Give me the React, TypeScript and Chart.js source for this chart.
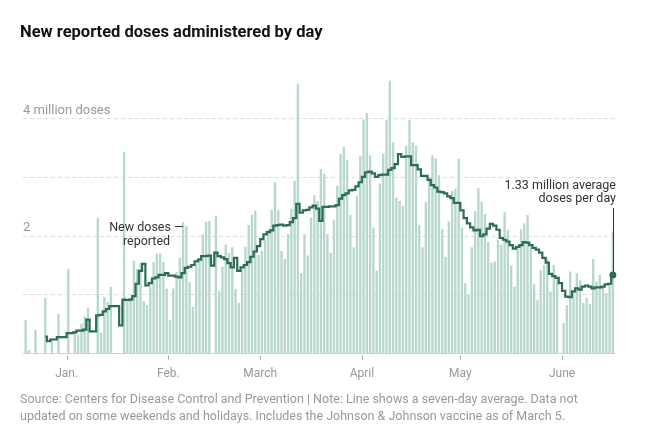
import React, { useEffect, useRef } from 'react';
import { Chart, registerables } from 'chart.js';

Chart.register(...registerables);

// ---- data (millions of doses) ----
const startDate = '2020-12-19';

const doses: (number | null)[] = [
  0.56, 0.05, null, 0.39, null, null, 0.94, null, 0.25, null,
  0.67, null, null, 1.43, null, 0.38, 0.31, 0.50, 0.62, 0.77,
  null, null, 2.30, 0.35, 0.96, 0.87, 1.13, null, null, null,
  3.43, 0.87, 0.95, 1.57, 1.43, 1.54, 0.88, 0.82, 1.13, 1.55,
  1.69, 1.69, 1.55, 1.10, 0.56, 1.10, 1.38, 1.62, 2.23, 2.16,
  1.21, 0.79, 1.52, 1.62, 2.02, 2.24, 2.25, null, 2.34, 1.06,
  1.47, 1.85, 1.71, 1.80, 1.09, 0.85, 1.42, 1.81, 2.18, 2.35,
  2.43, 1.67, 1.74, 1.93, 2.10, 2.44, 2.91, 2.44, 1.74, 1.60,
  2.03, 2.46, 2.93, 4.59, 1.36, 2.03, 1.66, 2.31, 2.69, 2.59,
  3.13, 3.05, 2.03, 1.71, 2.27, 2.85, 3.39, 3.51, 3.29, 2.35,
  1.80, 2.68, 3.36, 3.98, 4.09, 3.37, 2.14, 1.40, 2.89, 3.40,
  3.97, 4.64, 3.59, 2.65, 2.59, 2.51, 3.53, 3.97, 3.59, 3.53,
  2.18, 1.80, 2.57, 2.99, 3.37, 3.32, 3.03, 2.11, 1.64, 2.24,
  2.76, 2.80, 3.31, 2.14, 1.19, 1.00, 1.80, 2.42, 2.81, 2.58,
  2.37, 1.89, 1.54, 1.56, 1.93, 1.85, 2.40, 2.10, 1.49, 1.13,
  1.78, 2.11, 2.21, 2.35, 1.81, 1.17, 0.90, 1.41, 1.50, 1.61,
  1.05, 1.50, 1.26, null, 0.51, 0.82, 1.39, 1.05, 1.36, 1.24,
  0.85, 0.94, 0.83, 1.60, 1.22, 1.33, 1.13, 1.02, 1.17, 2.07,
];

const sevenDayAvg: (number | null)[] = [
  null, null, null, null, null, null,
  0.28, 0.20, 0.23, 0.23, 0.27, 0.27, 0.27, 0.34, 0.34, 0.35,
  0.38, 0.38, 0.40, 0.57, 0.37, 0.37, 0.64, 0.65, 0.71, 0.75,
  0.80, 0.80, 0.80, 0.47, 0.91, 0.90, 0.91, 0.97, 1.18, 1.40,
  1.52, 1.15, 1.19, 1.27, 1.29, 1.33, 1.33, 1.36, 1.32, 1.32,
  1.30, 1.29, 1.36, 1.45, 1.47, 1.50, 1.56, 1.59, 1.65, 1.65,
  1.66, 1.49, 1.71, 1.65, 1.63, 1.60, 1.53, 1.46, 1.62, 1.40,
  1.46, 1.50, 1.55, 1.64, 1.73, 1.82, 1.94, 2.02, 2.06, 2.09,
  2.17, 2.18, 2.19, 2.17, 2.18, 2.23, 2.30, 2.54, 2.39, 2.43,
  2.44, 2.48, 2.51, 2.46, 2.25, 2.49, 2.49, 2.50, 2.50, 2.52,
  2.63, 2.69, 2.72, 2.77, 2.78, 2.84, 2.91, 3.00, 3.08, 3.09,
  3.06, 3.00, 3.03, 3.04, 3.04, 3.12, 3.15, 3.22, 3.39, 3.34,
  3.35, 3.35, 3.20, 3.20, 3.13, 3.02, 3.02, 2.95, 2.86, 2.82,
  2.75, 2.74, 2.72, 2.67, 2.64, 2.56, 2.56, 2.43, 2.30, 2.21,
  2.14, 2.09, 2.10, 1.99, 2.02, 2.12, 2.20, 2.17, 2.10, 1.96,
  1.93, 1.90, 1.84, 1.78, 1.81, 1.84, 1.89, 1.88, 1.84, 1.79,
  1.76, 1.71, 1.62, 1.54, 1.35, 1.31, 1.28, 1.19, 1.06, 0.96,
  0.95, 1.05, 1.10, 1.08, 1.13, 1.15, 1.13, 1.10, 1.12, 1.12,
  1.13, 1.17, 1.18, 1.33,
];

const monthTickDates = ['2021-01-01', '2021-02-01', '2021-03-01', '2021-04-01', '2021-05-01', '2021-06-01'];
const monthTickLabels = ['Jan.', 'Feb.', 'March', 'April', 'May', 'June'];
const gridValues = [1, 2, 3, 4];
const yLabelValues = [4, 2];
const yLabelTexts = ['4 million doses', '2'];
const leftNote = ['New doses —', 'reported'];
const rightNote = ['1.33 million average', 'doses per day'];

function buildDates(start: string, n: number): string[] {
  const out: string[] = [];
  const t0 = new Date(start + 'T00:00:00Z').getTime();
  for (let i = 0; i < n; i++) out.push(new Date(t0 + i * 86400000).toISOString().slice(0, 10));
  return out;
}
const categories = buildDates(startDate, doses.length);

const BAR = '#b8d8cc';
const LINE = '#2d6b5a';
const FONT = 'Roboto, "Liberation Sans", Arial, sans-serif';

export default function App() {
  const ref = useRef<HTMLCanvasElement>(null);

  useEffect(() => {
    const canvas = ref.current;
    if (!canvas) return;
    const lastIdx = sevenDayAvg.length - 1;

    const decor = {
      id: 'decor',
      beforeDatasetsDraw(chart: any) {
        const { ctx, chartArea, scales } = chart;
        const y = scales.y;
        ctx.save();
        ctx.strokeStyle = '#dedede';
        ctx.lineWidth = 1;
        ctx.setLineDash([4, 3]);
        gridValues.forEach((v) => {
          const py = Math.round(y.getPixelForValue(v)) + 0.5;
          ctx.beginPath();
          ctx.moveTo(chartArea.left - 1, py);
          ctx.lineTo(chartArea.right + 1, py);
          ctx.stroke();
        });
        ctx.setLineDash([]);
        ctx.fillStyle = '#999';
        ctx.font = `13px ${FONT}`;
        ctx.textAlign = 'left';
        ctx.textBaseline = 'middle';
        yLabelValues.forEach((v, i) => {
          ctx.fillText(yLabelTexts[i], chartArea.left - 1, y.getPixelForValue(v) - 8);
        });
        ctx.restore();
      },
      afterDatasetsDraw(chart: any) {
        const { ctx, chartArea, scales } = chart;
        const x = scales.x;
        const y = scales.y;
        ctx.save();
        const by = Math.round(y.getPixelForValue(0)) + 0.5;
        ctx.strokeStyle = '#cfcfcf';
        ctx.lineWidth = 1;
        ctx.beginPath();
        ctx.moveTo(chartArea.left - 1, by);
        ctx.lineTo(chartArea.right + 1, by);
        ctx.stroke();
        const half = (x.getPixelForValue(1) - x.getPixelForValue(0)) / 2;
        ctx.strokeStyle = '#aaa';
        monthTickDates.forEach((d) => {
          const idx = categories.indexOf(d);
          if (idx < 0) return;
          const px = Math.round(x.getPixelForValue(idx) - half) + 0.5;
          ctx.beginPath();
          ctx.moveTo(px, by + 2);
          ctx.lineTo(px, by + 6);
          ctx.stroke();
        });
        ctx.fillStyle = '#333';
        ctx.font = `12.5px ${FONT}`;
        ctx.textBaseline = 'middle';
        ctx.textAlign = 'center';
        ctx.fillText(leftNote[0], 146.5, 228);
        ctx.fillText(leftNote[1], 146.5, 242);
        ctx.textAlign = 'right';
        ctx.fillText(rightNote[0], 616, 186);
        ctx.fillText(rightNote[1], 616, 199);
        const lx = x.getPixelForValue(lastIdx);
        const ly = y.getPixelForValue(sevenDayAvg[lastIdx] as number);
        ctx.strokeStyle = '#333';
        ctx.beginPath();
        ctx.moveTo(Math.round(lx) + 0.5, 208);
        ctx.lineTo(Math.round(lx) + 0.5, ly - 3);
        ctx.stroke();
        ctx.restore();
      },
    };

    const chart = new Chart(canvas, {
      type: 'bar',
      data: {
        labels: categories,
        datasets: [
          {
            type: 'line',
            data: sevenDayAvg,
            borderColor: LINE,
            borderWidth: 2.2,
            stepped: 'middle',
            fill: false,
            borderJoinStyle: 'miter',
            pointRadius: (c: any) => (c.dataIndex === lastIdx ? 3.5 : 0),
            pointHoverRadius: 0,
            pointBackgroundColor: LINE,
            pointBorderWidth: 0,
            order: 0,
          } as any,
          {
            type: 'bar',
            data: doses,
            backgroundColor: BAR,
            barPercentage: 0.72,
            categoryPercentage: 1,
            order: 1,
          } as any,
        ],
      },
      options: {
        responsive: false,
        animation: false,
        events: [],
        layout: { padding: { left: 24, right: 37.5, top: 77.2, bottom: 40.6 } },
        plugins: { legend: { display: false }, tooltip: { enabled: false }, title: { display: false } },
        scales: {
          x: {
            type: 'category',
            offset: true,
            grid: { display: false, drawTicks: false },
            border: { display: false },
            ticks: {
              autoSkip: false,
              maxRotation: 0,
              minRotation: 0,
              padding: 14,
              labelOffset: -1.6,
              color: '#999',
              font: { family: FONT, size: 12 },
              callback: (_v: any, i: number) => {
                const k = monthTickDates.indexOf(categories[i]);
                return k >= 0 ? monthTickLabels[k] : '';
              },
            },
          },
          y: { display: false, min: 0, max: 4.7 },
        },
      },
      plugins: [decor],
    } as any);

    return () => chart.destroy();
  }, []);

  return (
    <div style={{ position: 'absolute', left: 0, top: 0, width: 652, height: 436, background: '#fff', fontFamily: FONT }}>
      <canvas ref={ref} width={652} height={436} style={{ position: 'absolute', left: 0, top: 0, width: 652, height: 436, display: 'block' }} />
      <div style={{ position: 'absolute', left: 20, top: 23, fontSize: 16.5, lineHeight: '18px', fontWeight: 700, color: '#121212', whiteSpace: 'nowrap' }}>
        New reported doses administered by day
      </div>
      <div style={{ position: 'absolute', left: 20, top: 389.5, fontSize: 12.5, lineHeight: '17px', color: '#999', whiteSpace: 'nowrap' }}>
        Source: Centers for Disease Control and Prevention | Note: Line shows a seven-day average. Data not
        <br />
        updated on some weekends and holidays. Includes the Johnson &amp; Johnson vaccine as of March 5.
      </div>
    </div>
  );
}
